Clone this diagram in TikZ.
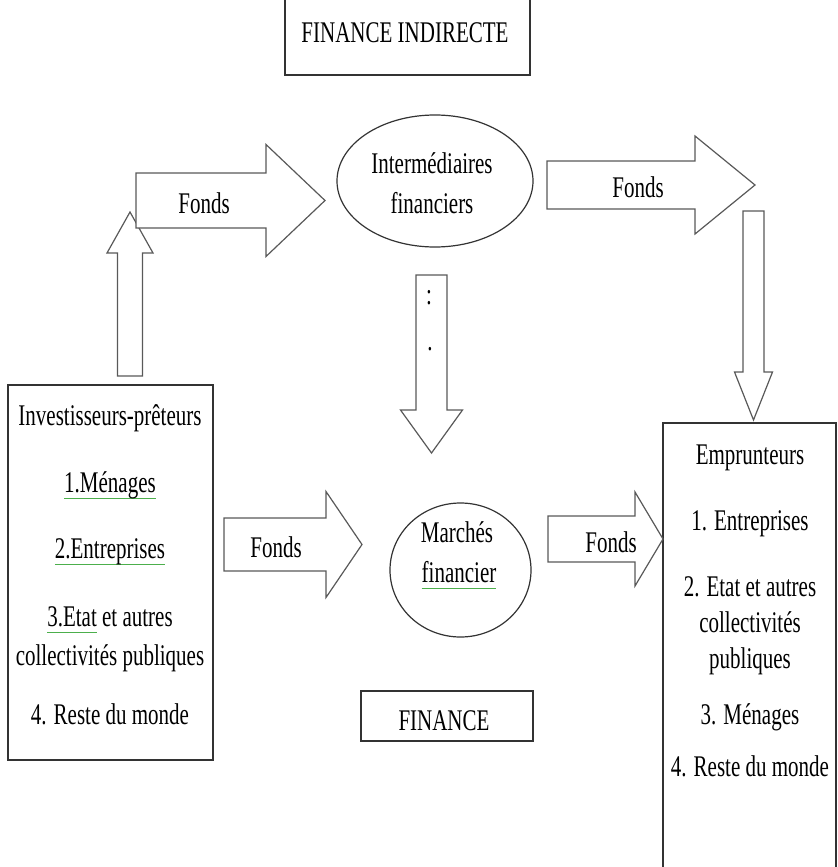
\documentclass[tikz,border=0pt]{standalone}
\usepackage{fontspec}
\setmainfont[FakeStretch=0.7]{Liberation Serif}
\usetikzlibrary{shapes.geometric}
% green mark under some words
\newcommand{\spellmark}[1]{\setbox0\hbox{#1}\rlap{\textcolor{green!55!black!70}{\rule[-0.5ex]{\wd0}{0.6pt}}}\box0}

\begin{document}
\begin{tikzpicture}[x=0.5pt,y=-0.5pt,
    lbl/.style={anchor=base,inner sep=0pt,font=\fontsize{15}{18}\selectfont},
    box/.style={draw=black!80,line width=0.6pt,rectangle,inner sep=0pt},
    oval/.style={draw=black!80,line width=0.6pt,ellipse,inner sep=0pt},
    pics/fatarrow/.style n args={4}{code={
        \draw[draw=black!65,line width=0.6pt,line join=miter,fill=white]
        (0,-#2) -- (#1-#4,-#2) -- (#1-#4,-#3) -- (#1,0) -- (#1-#4,#3)
        -- (#1-#4,#2) -- (0,#2) -- cycle;}}]

  \useasboundingbox (0,0) rectangle (838,867);
  \clip (0,0) rectangle (838,867);

  % boxes and ovals
  \node[box,minimum width=122.5pt,minimum height=57.5pt] (indirecte) at (407.5,17.5) {};
  \node[lbl] (indirectetxt) at (405,42) {FINANCE INDIRECTE};
  \node[oval,minimum width=98pt,minimum height=66pt] (interm) at (435,181) {};
  \node[lbl] (interm1) at (432,173) {Intermédiaires};
  \node[lbl] (interm2) at (432,213) {financiers};
  \node[oval,minimum width=70.5pt,minimum height=67pt] (marches) at (460.5,570) {};
  \node[lbl] (marches1) at (457,542) {Marchés};
  \node[lbl] (marches2) at (459,582) {\spellmark{financier}};
  \node[box,minimum width=86pt,minimum height=25pt] (finance) at (447,716) {};
  \node[lbl] (financetxt) at (444,730) {FINANCE};

  \node[box,minimum width=102.5pt,minimum height=187.5pt] (preteurs) at (110.5,572.5) {};
  \foreach \t/\y [count=\i] in {Investisseurs-prêteurs/425,\spellmark{1.Ménages}/492,
      \spellmark{2.Entreprises}/558,\spellmark{3.Etat}\ et autres/626,
      collectivités publiques/665,4. Reste du monde/724}
    \node[lbl] (pret\i) at (110,\y) {\t};

  \node[box,minimum width=86.5pt,minimum height=238.5pt] (emprunteurs) at (749.5,661.5) {};
  \foreach \t/\y [count=\i] in {Emprunteurs/464,1. Entreprises/530,2. Etat et autres/596,
      collectivités/632,publiques/668,3. Ménages/724,4. Reste du monde/776}
    \node[lbl] (empr\i) at (750,\y) {\t};

  % block arrows
  \pic[rotate=90] at (130,376) {fatarrow={164}{12.5}{23}{41}};
  \pic at (136,200.5) {fatarrow={189}{27.5}{56}{59}};
  \pic at (547,185) {fatarrow={208}{24}{49}{60}};
  \pic[rotate=-90] at (753.5,211) {fatarrow={209}{10.5}{19}{48}};
  \pic[rotate=-90] at (431.5,275) {fatarrow={178}{15.5}{31}{43}};
  \pic at (224,544.5) {fatarrow={138}{26.5}{53}{36}};
  \pic at (548,539) {fatarrow={115}{23}{47}{28}};

  \node[lbl] (fonds1) at (204,213) {Fonds};
  \node[lbl] (fonds2) at (638,197) {Fonds};
  \node[lbl] (fonds3) at (276,557) {Fonds};
  \node[lbl] (fonds4) at (611,552) {Fonds};
  \node[lbl] (dots1) at (429,304) {:};
  \node[lbl] (dots2) at (430,350) {.};

\end{tikzpicture}
\end{document}
